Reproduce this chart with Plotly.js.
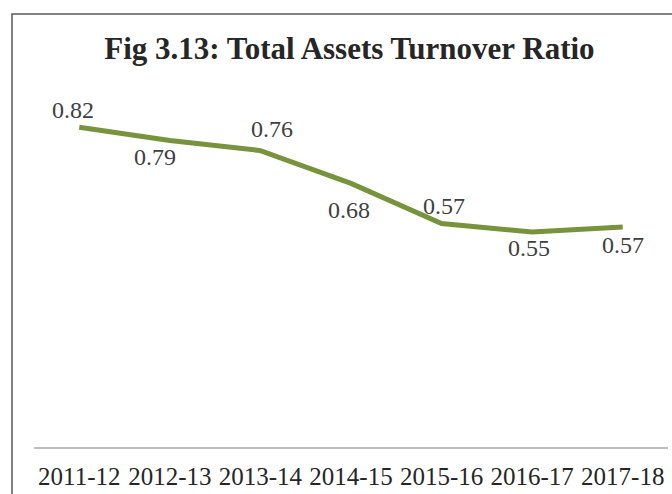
<!DOCTYPE html>
<html>
<head>
<meta charset="utf-8">
<script src="https://cdn.plot.ly/plotly-3.0.1.min.js"></script>
<style>html,body{margin:0;padding:0;background:#fff;}#chart{width:672px;height:494px;}</style>
</head>
<body>
<div id="chart"></div>
<script>
var years = ["2011-12","2012-13","2013-14","2014-15","2015-16","2016-17","2017-18"];
var ratio = [0.82, 0.786, 0.76, 0.676, 0.573, 0.551, 0.564];
var ratioLabels = ["0.82","0.79","0.76","0.68","0.57","0.55","0.57"];

// label placement offsets (pixels), styling only
var labelDx = [-6, -15, 12, -2, 2, -3, 0];
var labelDy = [17, -17, 22, -27, 18, -16, -18];

var trace = {
  x: years,
  y: ratio,
  type: "scatter",
  mode: "lines",
  line: {color: "#77933C", width: 5},
  hoverinfo: "none"
};

var annotations = years.map(function (yr, i) {
  return {
    x: yr, y: ratio[i], xref: "x", yref: "y",
    text: ratioLabels[i],
    showarrow: false,
    xanchor: "center", yanchor: "middle",
    xshift: labelDx[i], yshift: labelDy[i],
    font: {family: "Liberation Serif, serif", size: 24, color: "#404040"}
  };
});

var layout = {
  width: 672,
  height: 494,
  margin: {l: 34, r: 4, t: 96, b: 47},
  paper_bgcolor: "#ffffff",
  plot_bgcolor: "#ffffff",
  showlegend: false,
  title: {
    text: "<b>Fig 3.13: Total Assets Turnover Ratio</b>",
    font: {family: "Liberation Serif, serif", size: 31, color: "#262626"},
    x: 0.52, xanchor: "center",
    y: 0.903, yanchor: "middle"
  },
  xaxis: {
    type: "category",
    range: [-0.5, 6.5],
    showgrid: false,
    zeroline: false,
    showline: true,
    linecolor: "#BFBFBF",
    linewidth: 1.5,
    ticks: "",
    ticklabelstandoff: 6,
    tickfont: {family: "Liberation Serif, serif", size: 25, color: "#262626"},
    fixedrange: true
  },
  yaxis: {
    range: [0, 0.9],
    visible: false,
    showgrid: false,
    zeroline: false,
    fixedrange: true
  },
  annotations: annotations,
  shapes: [{
    type: "rect",
    xref: "paper", yref: "paper",
    x0: -0.0347, x1: 1.2,
    y0: -0.5, y1: 1.2336,
    line: {color: "#595959", width: 1.5},
    fillcolor: "rgba(0,0,0,0)"
  }]
};

Plotly.newPlot("chart", [trace], layout, {displayModeBar: false, staticPlot: true});
</script>
</body>
</html>
